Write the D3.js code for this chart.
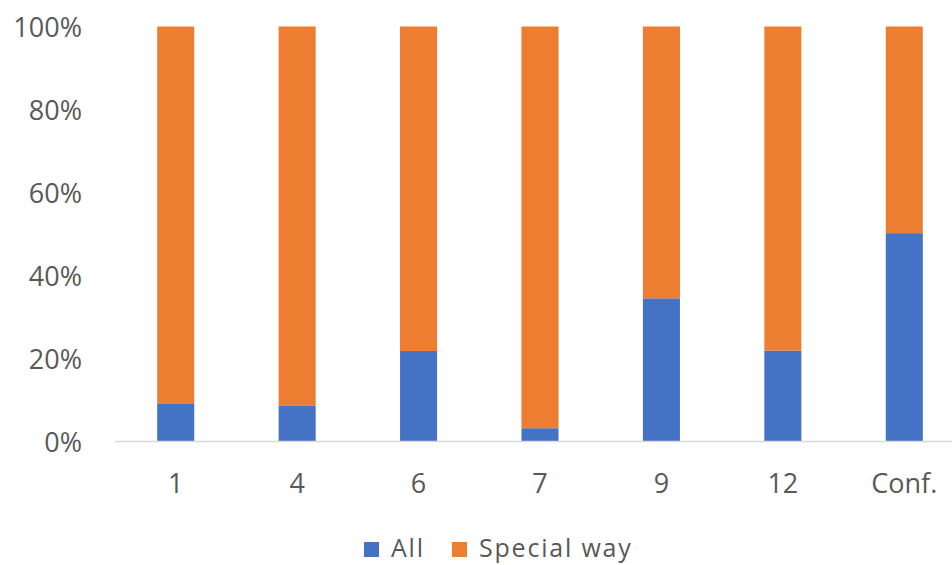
<!DOCTYPE html>
<meta charset="utf-8">
<head>
    <title>All vs Special way</title>
</head>
<script src="https://d3js.org/d3.v7.min.js"></script>
<style>
  body { margin: 0; background: #fff; }
  text { font-family: "Open Sans", sans-serif; fill: #595959; }
</style>
<div id="my_dataviz"></div>
<script>

// categories and shares (percent of each column)
var categories = ["1", "4", "6", "7", "9", "12", "Conf."];
var allShare = [9.2, 8.7, 21.8, 3.2, 34.5, 21.9, 50.2];
var specialShare = allShare.map(function(v) { return 100 - v; });
var seriesNames = ["All", "Special way"];
var seriesColors = ["#4472C4", "#ED7D31"];
var yTicks = [0, 20, 40, 60, 80, 100];

var width = 952,
    height = 565;

var svg = d3.select("#my_dataviz")
  .append("svg")
    .attr("width", width)
    .attr("height", height);

// build rows for the stack
var rows = categories.map(function(c, i) {
  return {cat: c, "All": allShare[i], "Special way": specialShare[i]};
});
var stacked = d3.stack().keys(seriesNames)(rows);

var xScale = d3.scaleBand()
    .domain(categories)
    .range([115, 965])
    .paddingInner(0.695)
    .paddingOuter(0.3475);

var yScale = d3.scaleLinear()
    .domain([0, 100])
    .range([441.5, 26.5]);

// bars
svg.selectAll("g.series")
  .data(stacked)
  .enter().append("g")
    .attr("class", "series")
    .attr("fill", function(d, i) { return seriesColors[i]; })
  .selectAll("rect")
  .data(function(d) { return d; })
  .enter().append("rect")
    .attr("x", function(d) { return xScale(d.data.cat); })
    .attr("y", function(d) { return yScale(d[1]); })
    .attr("height", function(d) { return yScale(d[0]) - yScale(d[1]); })
    .attr("width", xScale.bandwidth());

// baseline
svg.append("line")
    .attr("x1", 115).attr("x2", 952)
    .attr("y1", yScale(0)).attr("y2", yScale(0))
    .attr("stroke", "#d9d9d9")
    .attr("stroke-width", 1.5);

// y axis labels
var yAxis = d3.axisLeft(yScale)
    .tickValues(yTicks)
    .tickSize(0)
    .tickPadding(0)
    .tickFormat(function(d) { return d + "%"; });
svg.append("g")
    .attr("transform", "translate(82,1)")
    .call(yAxis)
    .call(function(g) { g.select(".domain").remove(); })
    .selectAll("text")
      .style("font-size", "27px")
      .style("font-family", "'Open Sans', sans-serif")
      .attr("fill", "#595959");

// x axis labels
var xAxis = d3.axisBottom(xScale).tickSize(0).tickPadding(0);
svg.append("g")
    .attr("transform", "translate(0,474)")
    .call(xAxis)
    .call(function(g) { g.select(".domain").remove(); })
    .selectAll("text")
      .style("font-size", "27px")
      .style("font-family", "'Open Sans', sans-serif")
      .attr("fill", "#595959");

// legend
var legendX = [364, 452];
var legend = svg.selectAll("g.legend")
  .data(seriesNames)
  .enter().append("g")
    .attr("class", "legend")
    .attr("transform", function(d, i) { return "translate(" + legendX[i] + ",542)"; });
legend.append("rect")
    .attr("width", 15)
    .attr("height", 15)
    .attr("fill", function(d, i) { return seriesColors[i]; });
legend.append("text")
    .attr("x", 27)
    .attr("y", 15)
    .style("font-size", "25px")
    .style("letter-spacing", "1.8px")
    .text(function(d) { return d; });

</script>
